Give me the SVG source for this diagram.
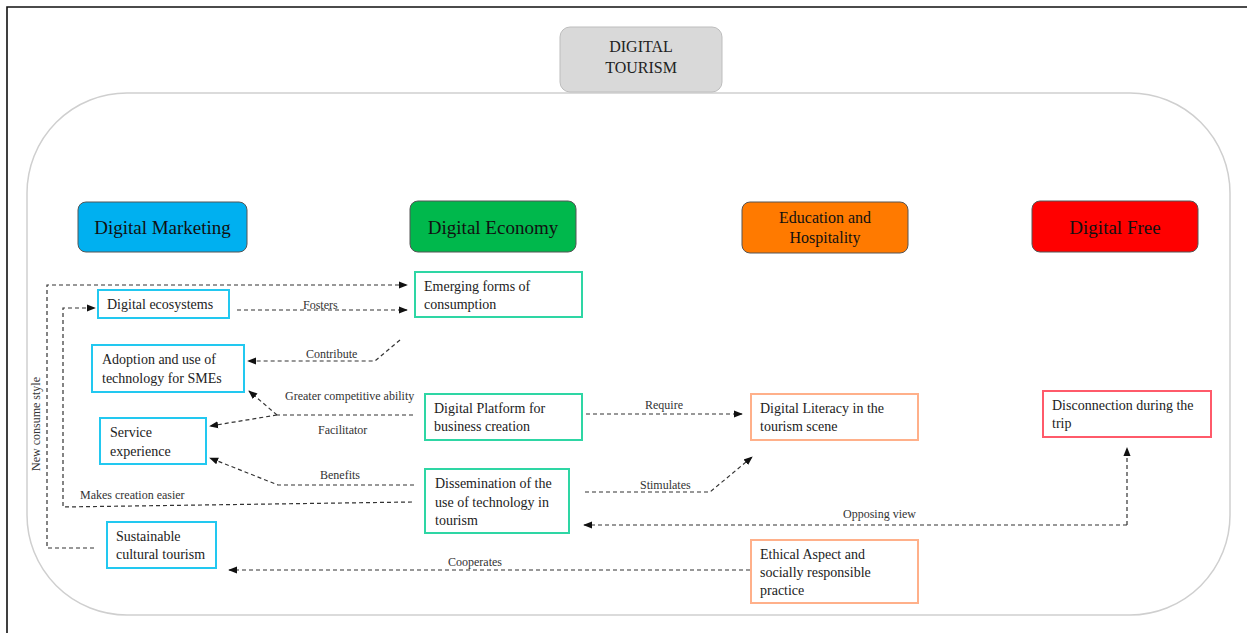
<svg xmlns="http://www.w3.org/2000/svg" width="1247" height="633" viewBox="0 0 1247 633">
<defs>
<marker id="arr" viewBox="0 0 10 10" refX="9" refY="5" markerWidth="9" markerHeight="9" markerUnits="userSpaceOnUse" orient="auto">
<path d="M0,1 L10,5 L0,9 Z" fill="#111"/>
</marker>
<style>
text{font-family:"Liberation Serif","Times New Roman",serif;fill:#222}
.node{font-size:14px}
.lbl{font-size:12px;fill:#333}
.cat{font-size:19px;fill:#111}
.cat2{font-size:16px;fill:#111}
.blue{fill:#fff;stroke:#22c8f0;stroke-width:2}
.green{fill:#fff;stroke:#2ed6a4;stroke-width:2}
.orange{fill:#fff;stroke:#ffb08a;stroke-width:2}
.red{fill:#fff;stroke:#ff5a6a;stroke-width:2}
.catbox{stroke:#555;stroke-width:1}
.con{fill:none;stroke:#333;stroke-width:1.2;stroke-dasharray:4,3}
</style>
</defs>
<rect width="1247" height="633" fill="#fff"/>
<path d="M7,633 V7 H1247" fill="none" stroke="#111" stroke-width="1.6"/>
<rect x="27" y="93" width="1203" height="522" rx="100" ry="100" fill="none" stroke="#cfcfcf" stroke-width="1.5"/>

<g id="digital-tourism">
<rect x="560" y="27" width="162" height="65" rx="10" fill="#d9d9d9" stroke="#bdbdbd" stroke-width="1"/>
<text x="641" y="52" text-anchor="middle" font-size="16">DIGITAL</text>
<text x="641" y="73" text-anchor="middle" font-size="16">TOURISM</text>
</g>

<g id="cat-marketing">
<rect class="catbox" x="78" y="202" width="169" height="50" rx="8" fill="#00b0f0"/>
<text class="cat" x="162.5" y="234" text-anchor="middle">Digital Marketing</text>
</g>
<g id="cat-economy">
<rect class="catbox" x="410" y="201" width="166" height="51" rx="8" fill="#00b84c"/>
<text class="cat" x="493" y="234" text-anchor="middle">Digital Economy</text>
</g>
<g id="cat-education">
<rect class="catbox" x="742" y="202" width="166" height="51" rx="8" fill="#ff7a00"/>
<text class="cat2" x="825" y="223" text-anchor="middle">Education and</text>
<text class="cat2" x="825" y="243" text-anchor="middle">Hospitality</text>
</g>
<g id="cat-free">
<rect class="catbox" x="1032" y="201" width="166" height="51" rx="8" fill="#ff0000"/>
<text class="cat" x="1115" y="234" text-anchor="middle" fill="#300">Digital Free</text>
</g>

<g id="digital-ecosystems">
<rect class="blue" x="98" y="290" width="131" height="28"/>
<text class="node" x="107" y="309">Digital ecosystems</text>
</g>
<g id="adoption-smes">
<rect class="blue" x="92" y="345" width="152" height="47"/>
<text class="node" x="102" y="364">Adoption and use of</text>
<text class="node" x="102" y="383">technology for SMEs</text>
</g>
<g id="service-experience">
<rect class="blue" x="100" y="418" width="106" height="46"/>
<text class="node" x="110" y="437">Service</text>
<text class="node" x="110" y="456">experience</text>
</g>
<g id="sustainable-tourism">
<rect class="blue" x="107" y="522" width="109" height="46"/>
<text class="node" x="116" y="541">Sustainable</text>
<text class="node" x="116" y="559">cultural tourism</text>
</g>

<g id="emerging-consumption">
<rect class="green" x="415" y="272" width="167" height="45"/>
<text class="node" x="424" y="291">Emerging forms of</text>
<text class="node" x="424" y="309">consumption</text>
</g>
<g id="digital-platform">
<rect class="green" x="425" y="394" width="157" height="46"/>
<text class="node" x="434" y="413">Digital Platform for</text>
<text class="node" x="434" y="431">business creation</text>
</g>
<g id="dissemination">
<rect class="green" x="425" y="469" width="144" height="64"/>
<text class="node" x="435" y="488">Dissemination of the</text>
<text class="node" x="435" y="507">use of technology in</text>
<text class="node" x="435" y="525">tourism</text>
</g>

<g id="digital-literacy">
<rect class="orange" x="751" y="394" width="167" height="46"/>
<text class="node" x="760" y="413">Digital Literacy in the</text>
<text class="node" x="760" y="431">tourism scene</text>
</g>
<g id="ethical-aspect">
<rect class="orange" x="751" y="540" width="167" height="63"/>
<text class="node" x="760" y="559">Ethical Aspect and</text>
<text class="node" x="760" y="577">socially responsible</text>
<text class="node" x="760" y="595">practice</text>
</g>

<g id="disconnection">
<rect class="red" x="1043" y="391" width="168" height="46"/>
<text class="node" x="1052" y="410">Disconnection during the</text>
<text class="node" x="1052" y="428">trip</text>
</g>

<g id="connectors">
<path class="con" d="M94,548 H47 V285 H407" marker-end="url(#arr)"/>
<text class="lbl" transform="translate(40,424) rotate(-90)" text-anchor="middle" font-size="13">New consume style</text>

<path class="con" d="M412,502 L63,507 V308 H95" marker-end="url(#arr)"/>
<text class="lbl" x="80" y="499">Makes creation easier</text>

<path class="con" d="M237,310 H407" marker-end="url(#arr)"/>
<text class="lbl" x="303" y="309">Fosters</text>

<path class="con" d="M400,340 L375,361 H248" marker-end="url(#arr)"/>
<text class="lbl" x="306" y="358">Contribute</text>

<path class="con" d="M413,415 H277"/>
<path class="con" d="M277,415 L249,391" marker-end="url(#arr)"/>
<path class="con" d="M277,415 L210,426" marker-end="url(#arr)"/>
<text class="lbl" x="285" y="400">Greater competitive ability</text>
<text class="lbl" x="318" y="434">Facilitator</text>

<path class="con" d="M414,485 H278 L210,458" marker-end="url(#arr)"/>
<text class="lbl" x="320" y="479">Benefits</text>

<path class="con" d="M586,414 H742" marker-end="url(#arr)"/>
<text class="lbl" x="645" y="409">Require</text>

<path class="con" d="M585,492 H710 L752,457" marker-end="url(#arr)"/>
<text class="lbl" x="640" y="489">Stimulates</text>

<path class="con" d="M1127,525 V448" marker-end="url(#arr)"/>
<path class="con" d="M1127,525 H584" marker-end="url(#arr)"/>
<text class="lbl" x="843" y="518">Opposing view</text>

<path class="con" d="M750,570 H229" marker-end="url(#arr)"/>
<text class="lbl" x="448" y="566">Cooperates</text>
</g>
</svg>
